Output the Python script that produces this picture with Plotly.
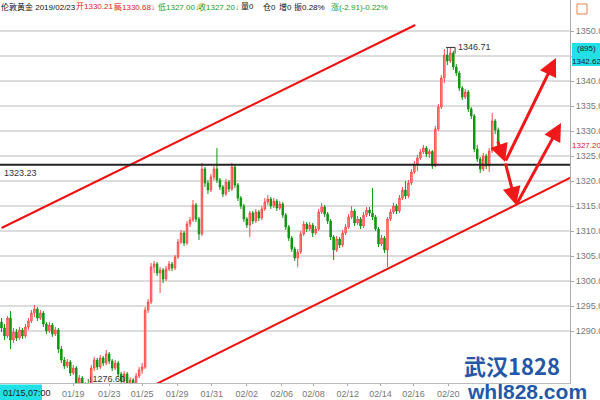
import plotly.graph_objects as go

# ---------------- data ----------------
idx = list(range(167))
opens = [1291.8,1290.6,1289.0,1292.6,1288.2,1289.8,1288.6,1290.2,1289.0,1290.8,
         1292.0,1293.6,1294.4,1292.6,1293.6,1291.4,1290.0,1291.2,1289.4,1290.2,
         1286.4,1284.2,1283.0,1283.8,1281.6,1282.6,1279.6,1280.6,1278.4,1279.2,
         1278.8,1282.6,1284.2,1282.8,1284.6,1283.6,1285.4,1284.0,1282.6,1283.6,
         1281.4,1280.0,1281.4,1279.2,1280.2,1279.0,1281.0,1282.2,1282.8,1294.2,
         1295.8,1302.8,1303.4,1301.6,1302.2,1300.4,1302.4,1303.4,1302.6,1304.8,
         1307.8,1309.6,1307.6,1311.4,1312.2,1315.2,1312.4,1309.4,1322.4,1319.6,
         1318.2,1320.8,1322.4,1320.2,1318.8,1317.4,1319.8,1318.4,1322.8,1319.2,
         1316.6,1315.0,1312.4,1311.2,1313.6,1312.0,1313.8,1312.6,1314.4,1315.8,
         1316.4,1315.0,1316.0,1314.6,1315.4,1313.2,1310.8,1308.6,1306.4,1304.6,
         1305.8,1309.4,1311.4,1310.4,1311.2,1309.6,1310.4,1313.8,1314.8,1313.4,
         1312.0,1308.8,1306.2,1308.4,1307.2,1309.6,1310.8,1312.8,1314.0,1311.6,
         1312.4,1311.0,1313.2,1314.2,1313.6,1312.8,1310.4,1307.4,1308.6,1306.2,
         1312.4,1313.8,1315.0,1314.0,1316.6,1318.2,1317.0,1319.6,1321.8,1323.4,
         1324.6,1325.8,1326.6,1325.4,1325.9,1323.0,1330.4,1334.8,1340.6,1345.2,
         1344.0,1345.6,1342.8,1341.6,1338.6,1336.8,1337.8,1334.4,1333.0,1326.4,
         1324.4,1322.4,1325.0,1323.0,1326.0,1332.0,1330.21]
highs = [1292.6,1291.4,1293.0,1294.0,1290.6,1290.4,1290.8,1290.6,1291.4,1292.6,
         1294.2,1295.2,1294.8,1294.2,1294.0,1291.8,1291.8,1291.6,1290.8,1290.6,
         1287.0,1284.8,1284.4,1284.2,1283.2,1283.0,1281.2,1281.0,1279.8,1280.4,
         1283.2,1284.8,1284.6,1285.2,1285.0,1286.2,1285.8,1284.4,1284.2,1284.0,
         1281.8,1282.0,1281.8,1280.8,1280.6,1281.6,1282.8,1283.6,1294.8,1296.4,
         1303.6,1304.0,1303.8,1302.8,1302.6,1303.0,1304.0,1303.8,1305.2,1308.4,
         1310.2,1310.0,1312.0,1312.8,1316.2,1315.6,1312.8,1323.6,1322.8,1320.2,
         1321.4,1323.0,1326.6,1320.6,1319.2,1320.4,1320.2,1323.6,1323.2,1319.6,
         1317.0,1315.4,1312.8,1314.0,1314.0,1314.4,1314.2,1315.0,1316.6,1317.2,
         1316.8,1316.6,1316.4,1316.0,1315.8,1313.6,1311.2,1309.0,1306.8,1306.4,
         1310.0,1312.0,1311.8,1311.8,1311.6,1311.0,1314.4,1315.6,1315.2,1313.8,
         1312.4,1309.2,1309.0,1308.8,1310.2,1311.4,1313.4,1315.0,1314.4,1313.0,
         1312.8,1313.8,1314.8,1314.8,1318.6,1313.2,1310.8,1309.2,1309.0,1312.8,
         1314.4,1315.6,1315.4,1317.2,1318.8,1320.0,1320.2,1322.4,1324.0,1325.2,
         1326.4,1327.2,1327.0,1326.4,1326.2,1331.0,1335.4,1341.2,1346.4,1346.6,
         1346.71,1346.0,1343.4,1342.0,1339.0,1338.4,1338.2,1334.8,1333.4,1327.2,
         1324.8,1325.6,1325.4,1326.6,1333.6,1332.4,1330.68]
lows = [1289.8,1288.2,1288.6,1286.4,1287.6,1288.0,1288.2,1288.4,1288.6,1290.2,
        1291.6,1292.8,1292.0,1292.2,1290.8,1289.4,1289.6,1288.8,1289.0,1285.6,
        1283.6,1282.4,1282.6,1281.0,1281.2,1278.8,1279.2,1277.6,1276.6,1278.0,
        1278.4,1282.0,1282.2,1282.4,1283.0,1283.2,1283.4,1282.0,1282.2,1280.8,
        1279.4,1279.6,1278.6,1278.8,1278.2,1278.6,1280.6,1281.4,1282.4,1293.6,
        1295.4,1301.6,1301.0,1297.6,1299.6,1300.0,1302.0,1302.0,1302.2,1304.4,
        1307.4,1307.0,1307.2,1310.8,1311.8,1311.8,1308.2,1309.0,1318.8,1317.4,
        1317.8,1320.2,1319.6,1318.2,1316.8,1317.0,1317.8,1318.0,1318.6,1316.0,
        1314.4,1311.8,1310.6,1308.8,1311.4,1311.6,1312.0,1312.2,1314.0,1315.2,
        1314.4,1314.6,1314.0,1314.2,1312.6,1310.2,1308.0,1305.8,1304.0,1302.8,
        1305.4,1309.0,1309.8,1310.0,1308.8,1309.2,1310.0,1313.4,1312.8,1311.4,
        1308.2,1304.2,1305.8,1306.6,1306.8,1309.2,1310.4,1312.4,1311.0,1311.2,
        1310.4,1310.6,1312.8,1313.0,1312.2,1310.0,1306.8,1307.0,1305.6,1302.8,
        1312.0,1313.4,1313.4,1313.6,1316.2,1316.4,1316.6,1319.2,1321.4,1322.0,
        1324.2,1325.4,1324.8,1324.6,1322.4,1322.8,1330.0,1334.4,1339.6,1343.2,
        1343.6,1342.2,1341.0,1338.0,1336.2,1336.4,1333.8,1332.4,1325.8,1323.8,
        1321.6,1322.0,1322.4,1321.8,1325.6,1329.4,1327.00]
closes = [1290.6,1289.0,1292.6,1288.2,1289.8,1288.6,1290.2,1289.0,1290.8,1292.0,
          1293.6,1294.4,1292.6,1293.6,1291.4,1290.0,1291.2,1289.4,1290.2,1286.4,
          1284.2,1283.0,1283.8,1281.6,1282.6,1279.6,1280.6,1278.4,1279.2,1278.8,
          1282.6,1284.2,1282.8,1284.6,1283.6,1285.4,1284.0,1282.6,1283.6,1281.4,
          1280.0,1281.4,1279.2,1280.2,1279.0,1281.0,1282.2,1282.8,1294.2,1295.8,
          1302.8,1303.4,1301.6,1302.2,1300.4,1302.4,1303.4,1302.6,1304.8,1307.8,
          1309.6,1307.6,1311.4,1312.2,1315.2,1312.4,1309.4,1322.4,1319.6,1318.2,
          1320.8,1322.4,1320.2,1318.8,1317.4,1319.8,1318.4,1322.8,1319.2,1316.6,
          1315.0,1312.4,1311.2,1313.6,1312.0,1313.8,1312.6,1314.4,1315.8,1316.4,
          1315.0,1316.0,1314.6,1315.4,1313.2,1310.8,1308.6,1306.4,1304.6,1305.8,
          1309.4,1311.4,1310.4,1311.2,1309.6,1310.4,1313.8,1314.8,1313.4,1312.0,
          1308.8,1306.2,1308.4,1307.2,1309.6,1310.8,1312.8,1314.0,1311.6,1312.4,
          1311.0,1313.2,1314.2,1313.6,1312.8,1310.4,1307.4,1308.6,1306.2,1312.4,
          1313.8,1315.0,1314.0,1316.6,1318.2,1317.0,1319.6,1321.8,1323.4,1324.6,
          1325.8,1326.6,1325.4,1325.9,1323.0,1330.4,1334.8,1340.6,1345.2,1344.0,
          1345.6,1342.8,1341.6,1338.6,1336.8,1337.8,1334.4,1333.0,1326.4,1324.4,
          1322.4,1325.0,1323.0,1326.0,1332.0,1330.21,1327.20]

x_tick_pos = [24, 36, 47, 58.7, 70.3, 82, 93.7, 104.3, 115.7, 126.7, 137.7, 149.3]
x_tick_text = ["01/19", "01/23", "01/25", "01/29", "01/31", "02/02", "02/06",
               "02/08", "02/12", "02/14", "02/16", "02/20"]
y_tick_vals = [1290, 1295, 1300, 1305, 1310, 1315, 1320, 1325, 1330, 1335, 1340, 1345, 1350]
y_tick_text = ["%.2f" % v if v != 1345 else "" for v in y_tick_vals]

# header pieces: (text, colour, pixel x)
header_parts = [("伦敦黄金 2019/02/23", "#111111", 0),
                ("开1330.21↑", "#e02020", 75),
                ("高1330.68↓", "#e02020", 113),
                ("低1327.00↓", "#1a9a1a", 157),
                ("收1327.20↓", "#1a9a1a", 197),
                ("量0", "#111111", 240),
                ("仓0", "#111111", 262),
                ("增0", "#111111", 278),
                ("振0.28%", "#111111", 293),
                ("涨(-2.91)-0.22%", "#1a9a1a", 330)]

support_level = 1323.23
upper_channel = ([0, 138.3], [1310.6, 1351.2])
lower_channel = ([47.7, 190], [1278.2, 1320.6])
# arrows: (tail_x, tail_y, head_x, head_y)
arrows = [(165.7, 1328.2, 168.3, 1323.8),
          (168.3, 1323.8, 185.3, 1344.6),
          (168.3, 1323.8, 172.0, 1315.2),
          (172.0, 1315.2, 187.0, 1331.6)]
peak_val = 1346.71
low_val = 1276.60
last_close = 1327.20

fig = go.Figure()
fig.add_trace(go.Candlestick(
    x=idx, open=opens, high=highs, low=lows, close=closes,
    increasing=dict(line=dict(color="#ff4a4a", width=1), fillcolor="#ff9a9a"),
    decreasing=dict(line=dict(color="#119611", width=1), fillcolor="#119611"),
    whiskerwidth=0, showlegend=False, hoverinfo="skip"))

PW = 570.0  # plot width in px
PH = 383.0  # plot height in px

shapes = []
shapes.append(dict(type="line", xref="x", yref="y", x0=upper_channel[0][0], y0=upper_channel[1][0],
                   x1=upper_channel[0][1], y1=upper_channel[1][1], line=dict(color="#f01010", width=2)))
shapes.append(dict(type="line", xref="x", yref="y", x0=lower_channel[0][0], y0=lower_channel[1][0],
                   x1=lower_channel[0][1], y1=lower_channel[1][1], line=dict(color="#f01010", width=2)))
shapes.append(dict(type="line", xref="paper", yref="y", x0=0, x1=1, y0=support_level, y1=support_level,
                   line=dict(color="#222222", width=2)))
# peak bracket
shapes.append(dict(type="line", xref="x", yref="y", x0=148.6, x1=151.6, y0=peak_val, y1=peak_val,
                   line=dict(color="#333", width=1)))
shapes.append(dict(type="line", xref="x", yref="y", x0=151.6, x1=151.6, y0=peak_val, y1=peak_val - 1.2,
                   line=dict(color="#333", width=1)))
# right-side cyan box
shapes.append(dict(type="rect", xref="paper", yref="paper", x0=572 / PW, x1=602 / PW,
                   y0=1 - 66 / PH, y1=1 - 43 / PH,
                   fillcolor="#22e0e8", line=dict(width=0), layer="above"))
# bottom-left cyan box
shapes.append(dict(type="rect", xref="paper", yref="paper", x0=0, x1=42 / PW, y0=-0.045, y1=-0.004,
                   fillcolor="#22e0e8", line=dict(width=0), layer="above"))
# small orange icon top right
shapes.append(dict(type="rect", xref="paper", yref="paper", x0=577 / PW, x1=587 / PW,
                   y0=1 - 14 / PH, y1=1 - 4 / PH,
                   fillcolor="white", line=dict(color="#e8834a", width=1), layer="above"))

annotations = []
for tx, ty, hx, hy in arrows:
    annotations.append(dict(x=hx, y=hy, ax=tx, ay=ty, xref="x", yref="y", axref="x", ayref="y",
                            text="", showarrow=True, arrowhead=2, arrowsize=1.2, arrowwidth=3,
                            arrowcolor="#f01818", standoff=0, startstandoff=0))

annotations.append(dict(x=0.003, y=support_level, xref="paper", yref="y", text="%.2f" % support_level,
                        showarrow=False, xanchor="left", yanchor="top", yshift=-1,
                        font=dict(size=9, color="#333", family="Liberation Sans")))
annotations.append(dict(x=151.8, y=peak_val, xref="x", yref="y", text="%.2f" % peak_val,
                        showarrow=False, xanchor="left", yanchor="middle",
                        font=dict(size=9, color="#333", family="Liberation Sans")))
annotations.append(dict(x=28.3, y=1280.4, xref="x", yref="y", text="↓%.2f" % low_val,
                        showarrow=False, xanchor="left", yanchor="middle",
                        font=dict(size=9, color="#333", family="Liberation Sans")))
annotations.append(dict(x=571 / PW, y=last_close, xref="paper", yref="y", text="%.2f" % last_close,
                        showarrow=False, xanchor="left", yanchor="middle", xshift=-1,
                        font=dict(size=8, color="#e02020", family="Liberation Sans")))
annotations.append(dict(x=586 / PW, y=1 - 49 / PH, xref="paper", yref="paper", text="(895)",
                        showarrow=False, xanchor="center", yanchor="middle",
                        font=dict(size=8, color="#222", family="Liberation Sans")))
annotations.append(dict(x=571 / PW, y=1 - 61 / PH, xref="paper", yref="paper", text="1342.62",
                        showarrow=False, xanchor="left", yanchor="middle", xshift=-1,
                        font=dict(size=8, color="#222", family="Liberation Sans")))
annotations.append(dict(x=0.002, y=-0.025, xref="paper", yref="paper", text="01/15,07:00",
                        showarrow=False, xanchor="left", yanchor="middle",
                        font=dict(size=9, color="#222", family="Liberation Sans")))

for txt, col, px in header_parts:
    annotations.append(dict(x=px / PW, y=1 - 7 / PH, xref="paper", yref="paper", text=txt,
                            showarrow=False, xanchor="left", yanchor="middle", xshift=-1,
                            font=dict(size=8, color=col, family="Liberation Sans, Noto Sans CJK SC")))

annotations.append(dict(x=462 / PW, y=1 - 365 / PH, xref="paper", yref="paper", text="<b>武汉1828</b>",
                        showarrow=False, xanchor="left", yanchor="middle",
                        font=dict(size=22, color="#2458a6", family="Noto Sans CJK SC")))
annotations.append(dict(x=465 / PW, y=1 - 391 / PH, xref="paper", yref="paper", text="<b>whl828.com</b>",
                        showarrow=False, xanchor="left", yanchor="middle",
                        font=dict(size=21, color="#2458a6", family="Liberation Sans")))

fig.update_layout(
    width=600, height=400,
    margin=dict(l=0, r=30, t=0, b=17, autoexpand=False),
    paper_bgcolor="white", plot_bgcolor="white",
    shapes=shapes, annotations=annotations,
    xaxis=dict(range=[-0.5, 190], rangeslider=dict(visible=False), showgrid=False,
               tickmode="array", tickvals=x_tick_pos, ticktext=x_tick_text,
               tickfont=dict(size=9, color="#777", family="Liberation Sans"),
               ticks="outside", ticklen=2, tickcolor="#aaa", automargin=False,
               showline=True, linecolor="#bbb", linewidth=1, zeroline=False),
    yaxis=dict(range=[1279.6, 1356.2], side="right", showgrid=True, gridcolor="#dcdcdc", gridwidth=2,
               tickmode="array", tickvals=y_tick_vals, ticktext=y_tick_text,
               tickfont=dict(size=9, color="#777", family="Liberation Sans"),
               ticks="outside", ticklen=3, tickcolor="#aaa", automargin=False,
               showline=True, linecolor="#aaa", linewidth=1, zeroline=False),
)

fig.write_html("out.html", config={"displayModeBar": False},
               post_script="document.body.style.margin='0px';")
